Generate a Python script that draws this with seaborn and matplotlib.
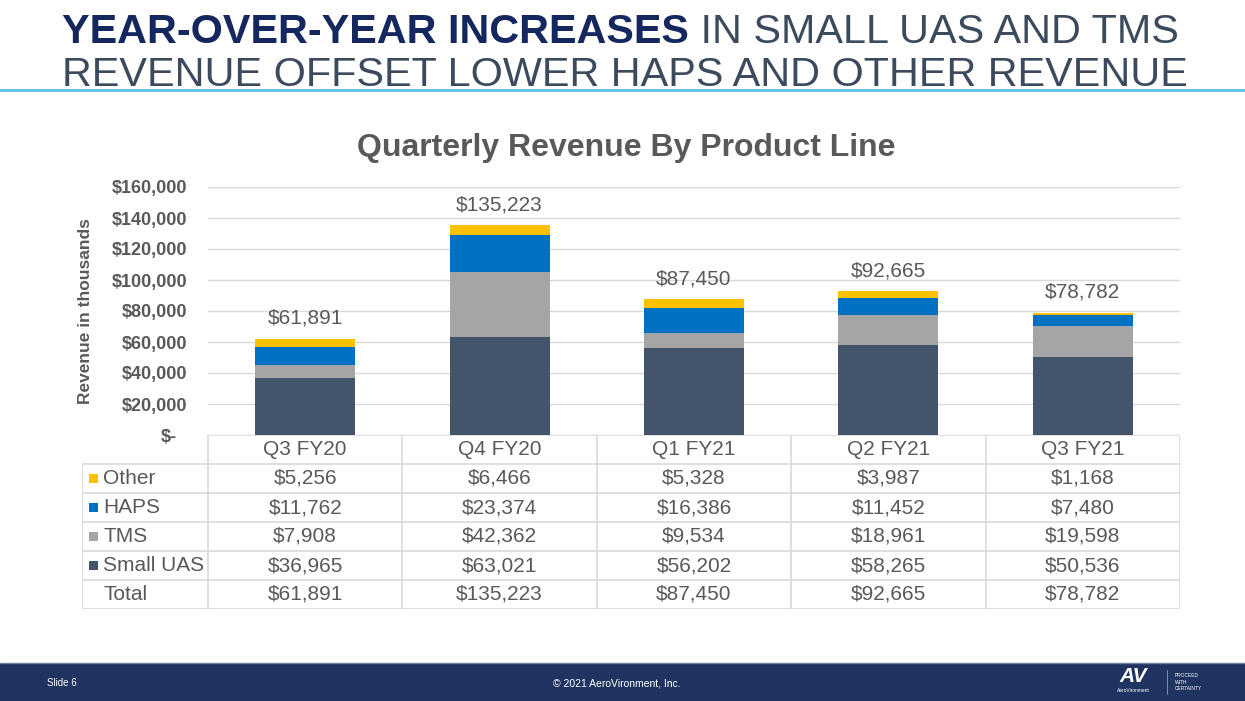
import numpy as np
import pandas as pd
import matplotlib
matplotlib.use("Agg")
import matplotlib.pyplot as plt
from matplotlib.patches import Rectangle
from matplotlib.ticker import FuncFormatter
import seaborn as sns

# Data (revenue in thousands)
quarters = ["Q3 FY20", "Q4 FY20", "Q1 FY21", "Q2 FY21", "Q3 FY21"]
small_uas = [36965, 63021, 56202, 58265, 50536]
tms = [7908, 42362, 9534, 18961, 19598]
haps = [11762, 23374, 16386, 11452, 7480]
other = [5256, 6466, 5328, 3987, 1168]
totals = [61891, 135223, 87450, 92665, 78782]

series_names = ["Small UAS", "TMS", "HAPS", "Other"]
series_vals = [small_uas, tms, haps, other]
colors = {"Small UAS": "#44546A", "TMS": "#A5A5A5", "HAPS": "#0070C0", "Other": "#FFC000"}

W, H = 1245, 701
def fx(px):
    return px / W
def fy(py):
    return 1 - py / H

sns.set_theme(style="white")
plt.rcParams["font.family"] = ["Liberation Sans", "DejaVu Sans"]
grey_txt = "#595959"
grid_c = "#D9D9D9"
tbl_fs = 15

fig = plt.figure(figsize=(W / 100, H / 100), dpi=100)
fig.patch.set_facecolor("white")

bg = fig.add_axes([0, 0, 1, 1])
bg.set_xlim(0, 1)
bg.set_ylim(0, 1)
bg.axis("off")

# slide header
t1 = bg.text(fx(62), fy(43), "YEAR-OVER-YEAR INCREASES", fontsize=29.8, fontweight="bold",
             color="#14275E", va="baseline", ha="left")
bg.annotate(" IN SMALL UAS AND TMS", xy=(1, 0), xycoords=t1, fontsize=29.8,
            color="#3B4A5C", va="bottom", ha="left")
bg.text(fx(62), fy(86), "REVENUE OFFSET LOWER HAPS AND OTHER REVENUE", fontsize=29.8,
        color="#3B4A5C", va="baseline", ha="left")
bg.plot([0, 1], [fy(90), fy(90)], color="#5BC2E7", lw=2)

# footer
bg.add_patch(Rectangle((0, 0), 1, 38 / H, color="#1F3461", lw=0))
bg.plot([0, 1], [38 / H, 38 / H], color="#6E7FA3", lw=1)
bg.text(fx(47), fy(683), "Slide 6", fontsize=7, color="white", va="center")
bg.text(fx(617), fy(683), "\u00a9 2021 AeroVironment, Inc.", fontsize=7.5, color="white",
        va="center", ha="center")
bg.text(fx(1133), fy(677), "AV", fontsize=15, color="white", fontweight="bold",
        style="italic", va="center", ha="center")
bg.text(fx(1133), fy(691), "AeroVironment", fontsize=3.5, color="white", va="center", ha="center")
bg.plot([fx(1167), fx(1167)], [fy(670), fy(694)], color="#8C9BBA", lw=0.6)
bg.text(fx(1175), fy(682), "PROCEED\nWITH\nCERTAINTY", fontsize=3.5, color="white",
        va="center", ha="left", linespacing=1.3)

# chart
ax = fig.add_axes([fx(208), fy(435), (1180 - 208) / W, (435 - 187) / H])
df = pd.DataFrame({"quarter": quarters, "Small UAS": small_uas, "TMS": tms,
                   "HAPS": haps, "Other": other})
bottom = np.zeros(len(quarters))
for name, vals in zip(series_names, series_vals):
    sns.barplot(data=df, x="quarter", y=name, order=quarters, color=colors[name],
                saturation=1, width=0.515, bottom=bottom, errorbar=None,
                linewidth=0, ax=ax, zorder=3)
    bottom = bottom + np.array(vals)

for i, tot in enumerate(totals):
    ax.annotate(f"${tot:,}", xy=(i, tot), xytext=(0, 8), textcoords="offset points",
                ha="center", va="bottom", fontsize=tbl_fs, color=grey_txt)

ax.set_xlim(-0.5, len(quarters) - 0.5)
ax.set_ylim(0, 160000)
ax.set_yticks(np.arange(0, 160001, 20000))
ax.yaxis.set_major_formatter(FuncFormatter(lambda v, p: "$-" if v == 0 else f"${v:,.0f}"))
ax.tick_params(axis="y", labelsize=13, labelcolor=grey_txt, length=0, pad=15)
ax.tick_params(axis="x", length=0, labelbottom=False)
for lab in ax.get_yticklabels():
    lab.set_fontweight("bold")
ax.set_xlabel("")
ax.set_ylabel("")
ax.grid(axis="y", color=grid_c, lw=1, zorder=0)
ax.set_axisbelow(True)
for s in ax.spines.values():
    s.set_visible(False)
fig.canvas.draw()
for lab in ax.get_yticklabels():
    if lab.get_text() == "$-":
        lab.set_x(-0.011)
fig.text(fx(85), fy(311), "Revenue in thousands", rotation=90, fontsize=12.5,
         fontweight="bold", color=grey_txt, ha="center", va="center")
fig.text(fx(626), fy(148), "Quarterly Revenue By Product Line", fontsize=23,
         fontweight="bold", color=grey_txt, ha="center", va="center")

# data table under the chart
cat_w = (1180 - 208) / len(quarters)
left_x = -0.5 - (208 - 82) / cat_w
tb = fig.add_axes([fx(82), fy(609), (1180 - 82) / W, (609 - 435) / H])
tb.set_xlim(left_x, len(quarters) - 0.5)
tb.set_ylim(6, 0)
tb.axis("off")
tb.plot([-0.5, len(quarters) - 0.5], [0, 0], color=grid_c, lw=1.2)
for r in range(1, 7):
    tb.plot([left_x, len(quarters) - 0.5], [r, r], color=grid_c, lw=1.2)
tb.plot([left_x, left_x], [1, 6], color=grid_c, lw=1.2)
for c in range(len(quarters) + 1):
    tb.plot([c - 0.5, c - 0.5], [0, 6], color=grid_c, lw=1.2)

for i, q in enumerate(quarters):
    tb.text(i, 0.5, q, ha="center", va="center", fontsize=tbl_fs, color=grey_txt)

row_names = ["Other", "HAPS", "TMS", "Small UAS"]
row_vals = [other, haps, tms, small_uas]
key_x = left_x + 7 / cat_w
name_x = left_x + 21 / cat_w
for r, (name, vals) in enumerate(zip(row_names, row_vals), start=1):
    tb.add_patch(Rectangle((key_x, r + 0.5 - 0.15), 9 / cat_w, 0.3,
                           color=colors[name], lw=0))
    tb.text(name_x, r + 0.5, name, ha="left", va="center", fontsize=tbl_fs, color=grey_txt)
    for i, v in enumerate(vals):
        tb.text(i, r + 0.5, f"${v:,}", ha="center", va="center", fontsize=tbl_fs, color=grey_txt)
tb.text(name_x, 5.5, "Total", ha="left", va="center", fontsize=tbl_fs, color=grey_txt)
for i, v in enumerate(totals):
    tb.text(i, 5.5, f"${v:,}", ha="center", va="center", fontsize=tbl_fs, color=grey_txt)

fig.savefig("out.png", dpi=100, facecolor="white")
